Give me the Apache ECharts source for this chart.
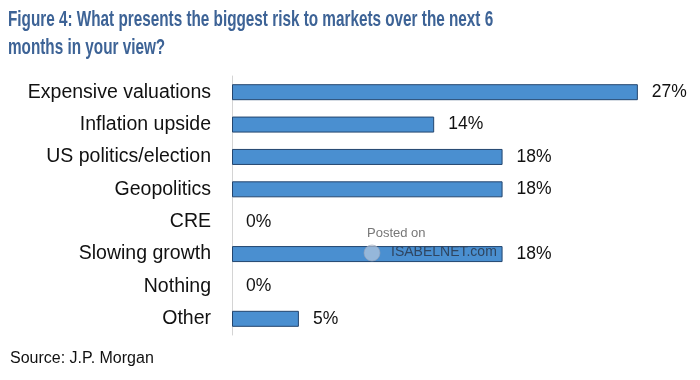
<!DOCTYPE html>
<html><head><meta charset="utf-8">
<script src="https://cdn.jsdelivr.net/npm/echarts@6/dist/echarts.min.js"></script>
<style>html,body{margin:0;padding:0;background:#fff}#c{width:700px;height:380px}</style>
</head><body><div id="c"></div>
<script>
const categories = ["Expensive valuations","Inflation upside","US politics/election","Geopolitics","CRE","Slowing growth","Nothing","Other"];
const values = [27.3, 13.6, 18.2, 18.2, 0, 18.2, 0, 4.5];
const titleLines = ["Figure 4: What presents the biggest risk to markets over the next 6", "months in your view?"];
const sourceText = "Source: J.P. Morgan";

const font = "'Liberation Sans',Arial,sans-serif";
const chart = echarts.init(document.getElementById('c'));
chart.setOption({
  animation: false,
  backgroundColor: '#fff',
  grid: { left: 232, right: 22, top: 76, bottom: 45 },
  xAxis: { type: 'value', min: 0, max: 30, show: false },
  yAxis: {
    type: 'category', data: categories, inverse: true,
    axisLine: { show: true, lineStyle: { color: '#d4d4d4', width: 1 } },
    axisTick: { show: false },
    axisLabel: { margin: 21, fontSize: 19.5, color: '#111', fontFamily: font }
  },
  series: [{
    type: 'bar', barWidth: 16,
    data: values.map(v => ({ value: v, itemStyle: v === 0 ? { borderWidth: 0 } : {} })),
    itemStyle: { color: '#4a8fd0', borderColor: '#23456e', borderWidth: 1 },
    label: { show: true, position: 'right', distance: 14, fontSize: 17.5, color: '#111',
      fontFamily: font, formatter: p => Math.round(p.value) + '%' }
  }],
  graphic: [
    { type: 'text', x: 8, y: 9, scaleX: 0.695, z: 10, style: { text: titleLines[0], fontSize: 22, fontWeight: 'bold', fill: '#3d6396', fontFamily: font } },
    { type: 'text', x: 8, y: 37, scaleX: 0.695, z: 10, style: { text: titleLines[1], fontSize: 22, fontWeight: 'bold', fill: '#3d6396', fontFamily: font } },
    { type: 'text', left: 10, top: 351, style: { text: sourceText, fontSize: 16, fill: '#111', fontFamily: font } },
    { type: 'text', left: 367, top: 227, z: 100, style: { text: 'Posted on', fontSize: 13, fill: '#777', fontFamily: font } },
    { type: 'circle', shape: { cx: 372, cy: 253, r: 8 }, z: 100, style: { fill: 'rgba(200,210,225,0.6)', stroke: 'rgba(150,160,180,0.6)', lineWidth: 1 } },
    { type: 'text', left: 391, top: 245, z: 100, style: { text: 'ISABELNET.com', fontSize: 14, fill: '#2f4560', fontFamily: font } }
  ]
});
</script></body></html>
